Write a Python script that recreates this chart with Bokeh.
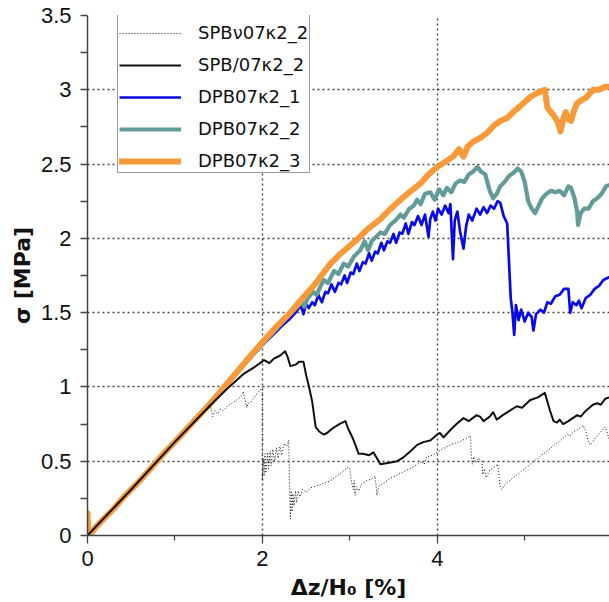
from bokeh.plotting import figure
from bokeh.models import FixedTicker, Legend, LegendItem
from bokeh.embed import file_html
from bokeh.resources import INLINE

# ---------------- data ----------------
x_ticks = [0, 2, 4, 6]
x_minor = [1, 3, 5]
y_ticks = [0, 0.5, 1, 1.5, 2, 2.5, 3, 3.5]
y_minor = [0.25, 0.75, 1.25, 1.75, 2.25, 2.75, 3.25]

labels = ["SPBν07κ2_2", "SPB/07κ2_2", "DPB07κ2_1", "DPB07κ2_2", "DPB07κ2_3"]

spbv_x = [0, 0.5, 1.0, 1.41, 1.43, 1.46, 1.49, 1.52, 1.55, 1.6, 1.65, 1.7, 1.75, 1.78, 1.8, 1.82,
          1.84, 1.87, 1.92, 1.96, 2.0, 2.0, 2.01, 2.02, 2.03, 2.04, 2.06, 2.07, 2.09, 2.1, 2.12,
          2.14, 2.16, 2.18, 2.2, 2.22, 2.25, 2.28, 2.3, 2.32, 2.33, 2.34, 2.35, 2.36, 2.38, 2.39,
          2.41, 2.43, 2.46, 2.5, 2.55, 2.6, 2.7, 2.78, 2.85, 2.92, 2.98, 3.0, 3.02, 3.04, 3.05,
          3.06, 3.08, 3.1, 3.14, 3.2, 3.25, 3.29, 3.31, 3.33, 3.38, 3.45, 3.55, 3.65, 3.75, 3.82,
          3.85, 3.88, 3.95, 4.05, 4.15, 4.25, 4.32, 4.38, 4.39, 4.4, 4.42, 4.44, 4.47, 4.51, 4.52,
          4.54, 4.56, 4.6, 4.65, 4.69, 4.71, 4.72, 4.74, 4.77, 4.85, 5.0, 5.15, 5.3, 5.45, 5.49,
          5.52, 5.56, 5.6, 5.67, 5.7, 5.73, 5.75, 5.8, 5.86, 5.92, 5.94, 5.97]
spbv_y = [0, 0.31, 0.63, 0.87, 0.80, 0.84, 0.82, 0.85, 0.84, 0.87, 0.89, 0.91, 0.93, 0.97, 0.92, 0.86,
          0.89, 0.90, 0.94, 0.97, 1.0, 0.37, 0.52, 0.40, 0.55, 0.42, 0.56, 0.45, 0.57, 0.47, 0.58,
          0.50, 0.59, 0.52, 0.60, 0.54, 0.62, 0.60, 0.64, 0.11, 0.30, 0.16, 0.28, 0.20, 0.30, 0.22,
          0.30, 0.26, 0.31, 0.29, 0.32, 0.33, 0.35, 0.37, 0.40, 0.43, 0.46, 0.45, 0.36, 0.31, 0.37,
          0.27, 0.33, 0.30, 0.35, 0.37, 0.38, 0.40, 0.27, 0.33, 0.35, 0.38, 0.41, 0.44, 0.47, 0.50,
          0.48, 0.53, 0.54, 0.58, 0.61, 0.63, 0.65, 0.67, 0.55, 0.48, 0.53, 0.49, 0.52, 0.50, 0.41,
          0.45, 0.39, 0.44, 0.46, 0.48, 0.38, 0.33, 0.31, 0.34, 0.38, 0.45, 0.52, 0.59, 0.66, 0.68,
          0.67, 0.70, 0.71, 0.74, 0.70, 0.63, 0.61, 0.65, 0.69, 0.73, 0.70, 0.64]

spbl_x = [0, 0.5, 1.0, 1.41, 1.6, 1.79, 1.9, 2.02, 2.08, 2.13, 2.2, 2.26, 2.29, 2.32, 2.38, 2.42,
          2.47, 2.5, 2.53, 2.57, 2.61, 2.65, 2.7, 2.74, 2.8, 2.88, 2.95, 2.98, 3.03, 3.07, 3.1,
          3.15, 3.22, 3.27, 3.31, 3.35, 3.45, 3.54, 3.6, 3.7, 3.77, 3.85, 3.92, 4.0, 4.03, 4.07,
          4.15, 4.22, 4.3, 4.36, 4.45, 4.49, 4.53, 4.6, 4.64, 4.68, 4.75, 4.83, 4.91, 4.97, 5.06,
          5.15, 5.23, 5.26, 5.29, 5.33, 5.37, 5.4, 5.44, 5.5, 5.55, 5.6, 5.64, 5.7, 5.78, 5.83,
          5.87, 5.92, 5.97]
spbl_y = [0, 0.31, 0.63, 0.88, 0.99, 1.09, 1.13, 1.18, 1.16, 1.19, 1.21, 1.24, 1.20, 1.14, 1.15, 1.17,
          1.17, 1.08, 1.01, 0.90, 0.73, 0.70, 0.68, 0.69, 0.72, 0.75, 0.77, 0.72, 0.66, 0.60, 0.55,
          0.55, 0.54, 0.56, 0.52, 0.48, 0.49, 0.50, 0.52, 0.57, 0.61, 0.63, 0.64, 0.68, 0.69, 0.66,
          0.71, 0.75, 0.79, 0.77, 0.81, 0.80, 0.77, 0.80, 0.83, 0.78, 0.81, 0.84, 0.87, 0.86, 0.91,
          0.93, 0.96, 0.90, 0.84, 0.77, 0.76, 0.78, 0.75, 0.77, 0.79, 0.81, 0.80, 0.84, 0.88, 0.89,
          0.88, 0.92, 0.93]

dpb1_x = [0, 0.5, 1.0, 1.5, 2.0, 2.24, 2.3, 2.38, 2.44, 2.47, 2.5, 2.53, 2.57, 2.6, 2.64, 2.68,
          2.72, 2.75, 2.79, 2.83, 2.87, 2.9, 2.94, 2.97, 3.01, 3.04, 3.08, 3.11, 3.15, 3.18, 3.22,
          3.25, 3.29, 3.32, 3.36, 3.39, 3.43, 3.46, 3.5, 3.53, 3.57, 3.6, 3.64, 3.67, 3.71, 3.74,
          3.78, 3.82, 3.86, 3.9, 3.92, 3.95, 3.98, 4.01, 4.05, 4.09, 4.13, 4.15, 4.18, 4.2, 4.23,
          4.26, 4.3, 4.33, 4.36, 4.4, 4.45, 4.49, 4.53, 4.57, 4.61, 4.65, 4.69, 4.72, 4.76, 4.8,
          4.82, 4.84, 4.86, 4.88, 4.9, 4.93, 4.96, 5.0, 5.04, 5.08, 5.1, 5.13, 5.18, 5.22, 5.26,
          5.3, 5.35, 5.4, 5.45, 5.5, 5.52, 5.55, 5.59, 5.62, 5.65, 5.7, 5.75, 5.8, 5.85, 5.9, 5.97]
dpb1_y = [0, 0.31, 0.63, 0.96, 1.28, 1.42, 1.45, 1.50, 1.55, 1.49, 1.56, 1.53, 1.57, 1.55, 1.62, 1.57,
          1.64, 1.63, 1.69, 1.64, 1.70, 1.69, 1.75, 1.70, 1.77, 1.76, 1.83, 1.78, 1.84, 1.83, 1.90,
          1.85, 1.91, 1.90, 1.97, 1.92, 1.98, 1.97, 2.03, 1.97, 2.04, 2.03, 2.10, 2.03, 2.11, 2.09,
          2.15, 2.09, 2.16, 2.01, 2.13, 2.18, 2.12, 2.20, 2.16, 2.22, 2.17, 2.23, 1.86, 2.12, 2.18,
          2.05, 1.93, 2.08, 2.16, 2.12, 2.20, 2.16, 2.21, 2.17, 2.22, 2.20, 2.25, 2.24, 2.15, 2.10,
          1.85, 1.60, 1.50, 1.35, 1.55, 1.45, 1.52, 1.44, 1.50, 1.47, 1.38, 1.49, 1.52, 1.50, 1.57,
          1.56, 1.61, 1.62, 1.66, 1.66, 1.50, 1.57, 1.55, 1.58, 1.53, 1.60, 1.62, 1.66, 1.68, 1.72, 1.74]

dpb2_x = [0, 0.5, 1.0, 1.5, 2.0, 2.3, 2.45, 2.48, 2.52, 2.58, 2.62, 2.7, 2.75, 2.82, 2.87, 2.93,
          2.98, 3.05, 3.12, 3.17, 3.21, 3.25, 3.3, 3.35, 3.4, 3.46, 3.52, 3.58, 3.62, 3.68, 3.73,
          3.77, 3.81, 3.86, 3.92, 3.97, 4.02, 4.07, 4.11, 4.16, 4.21, 4.26, 4.31, 4.36, 4.41, 4.46,
          4.5, 4.55, 4.6, 4.64, 4.68, 4.72, 4.77, 4.82, 4.87, 4.92, 4.96, 5.0, 5.04, 5.08, 5.12,
          5.16, 5.2, 5.25, 5.3, 5.35, 5.4, 5.45, 5.5, 5.53, 5.57, 5.6, 5.61, 5.64, 5.68, 5.73, 5.78,
          5.83, 5.88, 5.93, 5.97]
dpb2_y = [0, 0.31, 0.63, 0.96, 1.29, 1.48, 1.57, 1.54, 1.60, 1.64, 1.62, 1.72, 1.70, 1.78, 1.76, 1.83,
          1.81, 1.88, 1.92, 1.98, 1.92, 1.98, 2.01, 2.04, 2.03, 2.09, 2.12, 2.16, 2.14, 2.20, 2.22,
          2.26, 2.23, 2.30, 2.31, 2.26, 2.33, 2.29, 2.34, 2.31, 2.37, 2.39, 2.38, 2.43, 2.45, 2.48,
          2.45, 2.43, 2.32, 2.27, 2.30, 2.35, 2.38, 2.42, 2.44, 2.47, 2.45, 2.38, 2.25, 2.20, 2.17,
          2.22, 2.27, 2.30, 2.32, 2.31, 2.32, 2.29, 2.35, 2.34, 2.27, 2.18, 2.09, 2.17, 2.20, 2.20, 2.25,
          2.27, 2.30, 2.35, 2.36]

dpb3_x = [0, 0.0, 0.01, 0.05, 0.1, 0.15, 0.2, 0.3, 0.4, 0.5, 0.6, 0.75, 0.9, 1.0, 1.25, 1.41, 1.55,
          1.71, 1.85, 2.0, 2.15, 2.32, 2.42, 2.51, 2.6, 2.7, 2.78, 2.9, 3.0, 3.08, 3.2, 3.35, 3.45,
          3.58, 3.7, 3.81, 3.9, 4.0, 4.08, 4.18, 4.25, 4.3, 4.35, 4.41, 4.5, 4.57, 4.65, 4.72, 4.8,
          4.87, 4.95, 5.06, 5.15, 5.23, 5.26, 5.3, 5.34, 5.38, 5.41, 5.44, 5.47, 5.5, 5.53, 5.57,
          5.6, 5.65, 5.71, 5.78, 5.85, 5.92, 5.97]
dpb3_y = [0, 0.15, 0.0, 0.02, 0.06, 0.09, 0.12, 0.18, 0.25, 0.31, 0.37, 0.47, 0.57, 0.63, 0.79, 0.89, 0.99,
          1.10, 1.20, 1.30, 1.40, 1.50, 1.57, 1.63, 1.69, 1.77, 1.83, 1.90, 1.95, 1.99, 2.06, 2.13, 2.19,
          2.26, 2.32, 2.37, 2.43, 2.48, 2.51, 2.55, 2.60, 2.55, 2.62, 2.65, 2.68, 2.71, 2.76, 2.79, 2.81,
          2.85, 2.89, 2.95, 2.98, 3.00, 2.88, 2.85, 2.82, 2.78, 2.72, 2.80, 2.85, 2.80, 2.79, 2.87,
          2.91, 2.93, 2.95, 3.00, 3.00, 3.02, 3.02]

# ---------------- figure ----------------
p = figure(width=609, height=602, output_backend="svg", toolbar_location=None,
           x_range=(0, 5.97), y_range=(0, 3.5),
           min_border_left=87, min_border_right=0, min_border_top=15, min_border_bottom=62)
p.outline_line_color = None
p.background_fill_color = "white"
p.border_fill_color = "white"

r_b = p.line(dpb1_x, dpb1_y, line_color="#0A0AE6", line_width=2.7, line_join="round")
r_t = p.line(dpb2_x, dpb2_y, line_color="#629B98", line_width=4.2, line_join="round")
r_o = p.line(dpb3_x, dpb3_y, line_color="#F99A3A", line_width=6, line_join="round", line_cap="round")
r_k = p.line(spbl_x, spbl_y, line_color="#111111", line_width=2, line_join="round")
r_d = p.line(spbv_x, spbv_y, line_color="#111111", line_width=1, line_dash="1 2")

for ax in (p.xaxis[0], p.yaxis[0]):
    ax.axis_line_color = "#444444"
    ax.axis_line_width = 1.5
    ax.major_tick_line_color = "#444444"
    ax.minor_tick_line_color = "#444444"
    ax.major_tick_line_width = 1.3
    ax.minor_tick_line_width = 1.3
    ax.major_tick_in = 0
    ax.minor_tick_in = 0
    ax.major_label_text_font = "Liberation Sans"
    ax.major_label_text_font_size = "22px"
    ax.major_label_text_color = "#111111"
    ax.axis_label_text_font = "DejaVu Sans"
    ax.axis_label_text_font_style = "bold"
    ax.axis_label_text_font_size = "22px"
    ax.axis_label_text_color = "#111111"

p.xaxis.ticker = FixedTicker(ticks=x_ticks, minor_ticks=x_minor)
p.yaxis.ticker = FixedTicker(ticks=y_ticks, minor_ticks=y_minor)
p.xaxis.major_tick_out = 8
p.xaxis.minor_tick_out = 5
p.yaxis.major_tick_out = 7
p.yaxis.minor_tick_out = 7
p.xaxis.major_label_standoff = 7
p.yaxis.major_label_standoff = 9
p.xaxis.axis_label = "Δz/H₀ [%]"
p.yaxis.axis_label = "σ [MPa]"
p.xaxis.axis_label_standoff = 6
p.yaxis.axis_label_standoff = 3

p.xgrid.ticker = FixedTicker(ticks=[2, 4])
p.ygrid.ticker = FixedTicker(ticks=y_ticks[1:])
for g in (p.xgrid[0], p.ygrid[0]):
    g.grid_line_color = "#444444"
    g.grid_line_width = 1.4
    g.grid_line_dash = "2 3"

legend = Legend(items=[LegendItem(label=labels[0], renderers=[r_d]),
                       LegendItem(label=labels[1], renderers=[r_k]),
                       LegendItem(label=labels[2], renderers=[r_b]),
                       LegendItem(label=labels[3], renderers=[r_t]),
                       LegendItem(label=labels[4], renderers=[r_o])],
                location=(30, 362), margin=0, padding=1, spacing=11,
                glyph_width=62, glyph_height=20, label_height=20, label_standoff=17,
                label_text_font="DejaVu Sans", label_text_font_size="18px",
                label_text_color="#111111",
                border_line_color="#333333", border_line_width=1.5,
                background_fill_color="white", background_fill_alpha=1.0,
                title=" ", title_text_font_size="6px", title_standoff=12)
p.add_layout(legend)

open("out.html", "w").write(file_html(p, INLINE))
